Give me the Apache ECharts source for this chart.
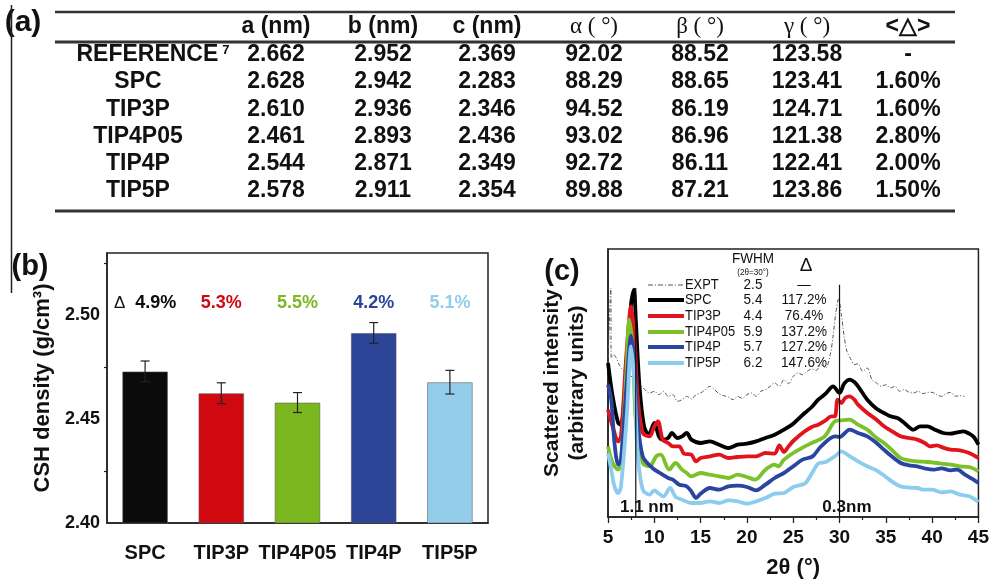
<!DOCTYPE html>
<html><head><meta charset="utf-8">
<script src="https://cdn.jsdelivr.net/npm/echarts@6/dist/echarts.min.js"></script>
<style>html,body{margin:0;padding:0;background:#fff}#c{width:992px;height:581px}</style>
</head><body><div id="c"></div>
<script>
// ---------- (a) table ----------
const tableHeader = ['a (nm)', 'b (nm)', 'c (nm)', 'α ( °)', 'β ( °)', 'γ ( °)', '<△>'];
const tableModels = ['REFERENCE', 'SPC', 'TIP3P', 'TIP4P05', 'TIP4P', 'TIP5P'];
const colA = [2.662, 2.628, 2.610, 2.461, 2.544, 2.578];
const colB = [2.952, 2.942, 2.936, 2.893, 2.871, 2.911];
const colC = [2.369, 2.283, 2.346, 2.436, 2.349, 2.354];
const colAlpha = [92.02, 88.29, 94.52, 93.02, 92.72, 89.88];
const colBeta = [88.52, 88.65, 86.19, 86.96, 86.11, 87.21];
const colGamma = [123.58, 123.41, 124.71, 121.38, 122.41, 123.86];
const colDelta = [null, 1.60, 1.60, 2.80, 2.00, 1.50];

// ---------- (b) density bars ----------
const densModels = ['SPC', 'TIP3P', 'TIP4P05', 'TIP4P', 'TIP5P'];
const density = [2.473, 2.4625, 2.458, 2.4915, 2.4678];
const densityErr = [0.005, 0.005, 0.0048, 0.005, 0.0057];
const densityDelta = ['4.9%', '5.3%', '5.5%', '4.2%', '5.1%'];
const modelColors = ['#0b0b0b', '#d0080f', '#7bb71e', '#2c4597', '#93cde9'];
const densityTicks = [2.40, 2.45, 2.50];

// ---------- (c) scattering ----------
const xrdNames = ['EXPT', 'SPC', 'TIP3P', 'TIP4P05', 'TIP4P', 'TIP5P'];
const xrdFWHM = ['2.5', '5.4', '4.4', '5.9', '5.7', '6.2'];
const xrdDelta = ['—', '117.2%', '76.4%', '137.2%', '127.2%', '147.6%'];
const expt = [[5,452],[5.3,687],[5.35,477],[5.6,487],[5.9,477],[6.2,457],[6.6,442],[7.0,432],[8.0,412],[8.8,387],[9.5,372],[10,377],[10.5,367],[11,377],[11.5,362],[12,367],[12.5,347],[13,352],[13.5,362],[14,354],[14.5,367],[15,372],[15.5,382],[16,392],[16.5,382],[17,370],[17.5,364],[18,360],[18.5,352],[19,362],[19.5,356],[20,367],[20.5,372],[21,362],[21.5,377],[22,382],[22.5,392],[23,402],[23.5,392],[24,412],[24.5,400],[25,422],[25.5,432],[26,427],[26.5,437],[27,444],[27.5,440],[28,457],[28.5,447],[29,487],[29.3,542],[29.6,612],[29.9,654],[30.2,607],[30.5,542],[30.8,497],[31.25,472],[31.6,457],[32,460],[32.5,437],[33,447],[33.5,412],[34,402],[34.5,392],[35,397],[35.5,387],[36,392],[36.5,377],[37,382],[37.5,374],[38,372],[38.5,377],[39,370],[39.5,374],[40,374],[40.5,367],[41,362],[41.5,370],[42,374],[42.5,362],[43,364],[43.5,362]];
const spc = [[5,462],[5.5,362],[6.1,282],[6.4,277],[7.0,442],[7.5,642],[7.8,682],[8.0,592],[8.4,392],[8.9,272],[9.4,247],[10.0,282],[10.5,242],[10.9,232],[11.5,237],[11.9,252],[12.5,237],[13,242],[13.5,252],[14,232],[15,222],[16,227],[17,217],[18,207],[19,217],[20,220],[21,227],[22,237],[23,247],[24,262],[25,280],[26.25,312],[27,330],[27.7,352],[28.5,370],[29.3,392],[30,372],[30.5,400],[31.1,412],[31.6,405],[32,392],[33,352],[34,325],[34.8,312],[35.5,302],[36.25,297],[37,282],[38,262],[38.7,272],[39.5,272],[40.3,262],[41.2,252],[42,250],[42.7,254],[43.4,257],[44,250],[44.5,240],[45,217]];
const tip3p = [[5,322],[5.5,272],[6.1,227],[6.4,242],[7.0,492],[7.5,632],[7.85,542],[8.2,362],[8.75,252],[9.5,242],[10.0,272],[10.4,287],[10.9,232],[11.5,222],[12.0,212],[12.7,212],[13.2,190],[14,187],[14.5,167],[15,177],[16,182],[17,187],[18,177],[19,180],[20,182],[21,182],[22,192],[23,190],[23.5,215],[24,195],[24.5,212],[25,228],[26.25,257],[27,270],[27.7,277],[28.5,290],[29.1,302],[29.5,302],[29.8,352],[30.2,342],[30.6,357],[31.1,362],[31.6,352],[32,337],[33,312],[34,292],[34.8,272],[35.5,260],[36.6,242],[37.5,237],[38.4,232],[39.2,222],[39.8,212],[40.5,215],[41.2,208],[42,202],[43,200],[44,192],[45,177]];
const tip4p05 = [[5,212],[5.5,162],[6.1,142],[6.4,162],[7.0,442],[7.3,592],[7.7,492],[8.0,292],[8.75,162],[9.5,152],[10.2,182],[10.7,187],[11.6,142],[12.3,162],[13,142],[13.5,132],[14,122],[15,132],[16,127],[17,122],[18,117],[19,127],[20,120],[20.9,112],[22,142],[23,157],[23.4,152],[24,172],[25,192],[26.25,212],[27,222],[28.4,242],[29.5,287],[30.2,290],[31.1,292],[32,277],[33,262],[34,237],[34.8,222],[35.5,205],[36.6,177],[37.5,170],[38.4,167],[39.5,165],[40.5,162],[42,157],[43,152],[44,150],[45,137]];
const tip4p = [[5,397],[5.35,352],[5.7,222],[6.1,157],[6.4,172],[7.0,392],[7.5,544],[7.85,462],[8.2,292],[8.75,182],[9.8,147],[10.9,127],[11.5,117],[12,112],[12.7,97],[13.5,92],[14,77],[14.5,57],[15,70],[16,87],[17,82],[18,92],[19,94],[20,90],[21,80],[22,97],[23,117],[24,132],[24.5,142],[25,152],[26,172],[27.1,182],[28,212],[29.5,242],[30,240],[31.1,262],[32,252],[33,242],[34,222],[34.8,202],[35.5,185],[36.6,162],[37.5,155],[38.4,152],[39.3,145],[40.2,142],[41,146],[42,140],[42.7,142],[43.5,128],[44.3,115],[45,102]];
const tip5p = [[5,192],[5.35,142],[5.7,92],[6.1,72],[6.4,92],[7.0,292],[7.5,512],[7.85,402],[8.2,192],[8.75,82],[9.5,67],[10,80],[10.5,70],[11,62],[11.7,87],[12.3,60],[13,52],[14,42],[15,42],[16,47],[17,42],[18,50],[19,47],[20,40],[21,47],[22,57],[23,70],[24,72],[25,90],[26.25,100],[27,130],[27.7,160],[28.5,165],[29.5,182],[30.2,197],[31,184],[32,167],[33,152],[34,140],[35,120],[36,100],[36.6,92],[37.5,88],[38.4,87],[39,82],[40,82],[41,74],[42,77],[43,67],[44,62],[45,45]];
const xrdSeries = [expt, spc, tip3p, tip4p05, tip4p, tip5p];
const xrdColors = ['#555555', '#000000', '#e0141a', '#7cc12a', '#2a44a2', '#8ccdef'];
const markerTheta = [8, 30];
const markerTop = [687, 697];
const markerLabels = ['1.1 nm', '0.3nm'];

// ---------- build ----------
const SANS = '"Liberation Sans", Arial, sans-serif';
const SERIF = '"Liberation Serif", "Times New Roman", serif';
const chart = echarts.init(document.getElementById('c'));
const G = [];
function text(x, y, t, font, extra, sx) {
  G.push({type: 'text', x: x, y: y, scaleX: sx || 1, silent: true,
    style: Object.assign({text: t, font: font, fill: '#111', align: 'center', verticalAlign: 'middle'}, extra || {})});
}
function line(x1, y1, x2, y2, w, col, dash) {
  G.push({type: 'line', silent: true, shape: {x1, y1, x2, y2}, style: {stroke: col || '#222', lineWidth: w, lineDash: dash || null}});
}
// panel labels
text(23, 23, '(a)', 'bold 30px ' + SANS);
text(30, 267, '(b)', 'bold 29px ' + SANS);
text(562, 272, '(c)', 'bold 29px ' + SANS);
line(11.5, 5, 11.5, 293, 1.5, '#222');
// table rules
line(55, 12, 955, 12, 2.5, '#333');
line(55, 42, 955, 42, 3, '#333');
line(55, 211, 955, 211, 3, '#333');
const colX = [276, 383, 487, 594, 700, 807, 908];
const rowY = [55, 82, 110, 137, 164, 191];
const BOLD = 'bold 23px ' + SANS;
tableHeader.forEach((h, j) => {
  const f = (j >= 3 && j <= 5) ? 'normal 23px ' + SERIF : BOLD;
  text(colX[j], 27, h, f);
});
tableModels.forEach((m, i) => {
  const y = rowY[i];
  if (i === 0) {
    G.push({type: 'text', x: 153, y: y, silent: true, style: {text: m + '{s|7}', font: BOLD, fill: '#111', align: 'center', verticalAlign: 'middle',
      rich: {s: {font: 'bold 13px ' + SANS, fill: '#111', verticalAlign: 'top', padding: [0, 0, 10, 4]}}}});
  } else {
    text(138, y, m, BOLD);
  }
  const vals = [colA[i].toFixed(3), colB[i].toFixed(3), colC[i].toFixed(3), colAlpha[i].toFixed(2), colBeta[i].toFixed(2), colGamma[i].toFixed(2),
    colDelta[i] == null ? '-' : colDelta[i].toFixed(2) + '%'];
  vals.forEach((v, j) => text(colX[j], y, v, BOLD));
});
// (c) legend
const legY = [285, 300, 316, 332, 347, 363];
text(753, 259, 'FWHM', 'normal 15px ' + SANS, null, 0.9);
text(753, 273, '(2θ=30°)', 'normal 9px ' + SANS, null, 0.9);
text(806, 266, 'Δ', 'normal 19px ' + SANS);
xrdNames.forEach((n, i) => {
  const y = legY[i];
  if (i === 0) line(648, y, 684, y, 1, xrdColors[0], [5, 2, 1, 2]);
  else line(648, y, 684, y, 4, xrdColors[i]);
  text(685, y, n, 'normal 15px ' + SANS, {align: 'left'}, 0.86);
  text(753, y, xrdFWHM[i], 'normal 15px ' + SANS, null, 0.9);
  text(804, y, xrdDelta[i], 'normal 15px ' + SANS, null, 0.9);
});

function textSeries(xi, yi, items) {
  return {type: 'custom', xAxisIndex: xi, yAxisIndex: yi, z: 30, silent: true,
    data: items.map((it, k) => [it.x, it.y, k]),
    renderItem: function (params, api) {
      const it = items[api.value(2)];
      const p = api.coord([api.value(0), api.value(1)]);
      return {type: 'text', x: p[0], y: p[1], style: Object.assign({text: it.text, fill: it.color, font: it.font,
        align: 'center', verticalAlign: 'middle'}, it.rich ? {rich: it.rich} : {})};
    }};
}

const series = [];
// bars
series.push({type: 'bar', xAxisIndex: 0, yAxisIndex: 0, barWidth: '60%',
  data: density.map((v, i) => ({value: v, itemStyle: {color: modelColors[i], borderColor: 'rgba(90,90,90,0.55)', borderWidth: 1}}))});
series.push({type: 'custom', xAxisIndex: 0, yAxisIndex: 0, z: 10,
  data: density.map((v, i) => [i, v - densityErr[i], v + densityErr[i]]),
  renderItem: function (params, api) {
    const lo = api.coord([api.value(0), api.value(1)]);
    const hi = api.coord([api.value(0), api.value(2)]);
    const hw = 4.5, st = {stroke: '#222', lineWidth: 1.2};
    return {type: 'group', children: [
      {type: 'line', shape: {x1: lo[0], y1: lo[1], x2: hi[0], y2: hi[1]}, style: st},
      {type: 'line', shape: {x1: lo[0] - hw, y1: lo[1], x2: lo[0] + hw, y2: lo[1]}, style: st},
      {type: 'line', shape: {x1: hi[0] - hw, y1: hi[1], x2: hi[0] + hw, y2: hi[1]}, style: st}
    ]};
  }});
series.push(textSeries(0, 0, densityDelta.map((d, i) => ({x: i, y: 2.5058,
  text: i === 0 ? '{d|Δ}  ' + d : d, color: modelColors[i], font: 'bold 18px ' + SANS,
  rich: {d: {fill: '#111', font: 'normal 17px ' + SANS}}}))));
// xrd lines
xrdSeries.forEach((d, i) => {
  series.push({type: 'line', name: xrdNames[i], xAxisIndex: 1, yAxisIndex: 1, data: d, showSymbol: false, smooth: 0.3,
    lineStyle: i === 0 ? {color: xrdColors[0], width: 1, type: [4, 2, 1, 2]} : {color: xrdColors[i], width: 3.8},
    z: 3 + i});
});
markerTheta.forEach((t, i) => {
  series.push({type: 'line', xAxisIndex: 1, yAxisIndex: 1, data: [[t, 0], [t, markerTop[i]]], showSymbol: false,
    lineStyle: {color: '#111', width: 1.2}, z: 20});
});
series.push(textSeries(1, 1, markerLabels.map((l, i) => ({x: markerTheta[i] + (i === 0 ? 1.2 : 0.8), y: 30,
  text: l, color: '#111', font: 'bold 17px ' + SANS}))));

const axisLineStyle = {lineStyle: {color: '#222', width: 1.5}};
const option = {
  animation: false,
  backgroundColor: '#fff',
  grid: [
    {left: 107, top: 253, width: 381, height: 270, show: true, borderColor: '#222', borderWidth: 1.5, backgroundColor: 'transparent'},
    {left: 608, top: 249, width: 374, height: 268, show: true, borderColor: '#222', borderWidth: 1.5, backgroundColor: 'transparent'}
  ],
  xAxis: [
    {type: 'category', gridIndex: 0, data: densModels, axisLine: axisLineStyle,
      axisTick: {alignWithLabel: true, length: 6, lineStyle: {color: '#222', width: 1.3}},
      axisLabel: {interval: 0, color: '#111', fontSize: 20, fontWeight: 'bold', fontFamily: SANS, margin: 20}},
    {type: 'value', gridIndex: 1, min: 5, max: 45, interval: 5, axisLine: axisLineStyle,
      axisTick: {length: 6, lineStyle: {color: '#222', width: 1.3}},
      minorTick: {show: true, splitNumber: 2, length: 3, lineStyle: {color: '#222', width: 1.2}},
      splitLine: {show: false},
      axisLabel: {color: '#111', fontSize: 19, fontWeight: 'bold', fontFamily: SANS, margin: 11},
      name: '2θ (°)', nameLocation: 'middle', nameGap: 40,
      nameTextStyle: {color: '#111', fontSize: 22, fontWeight: 'bold', fontFamily: SANS}}
  ],
  yAxis: [
    {type: 'value', gridIndex: 0, min: 2.40, max: 2.53, interval: 0.05, axisLine: {show: true, lineStyle: {color: '#222', width: 1.5}},
      axisTick: {length: 6, lineStyle: {color: '#222', width: 1.3}},
      minorTick: {show: true, splitNumber: 2, length: 3, lineStyle: {color: '#222', width: 1.2}},
      splitLine: {show: false},
      axisLabel: {color: '#111', fontSize: 18, fontWeight: 'bold', fontFamily: SANS, margin: 7, showMaxLabel: false,
        formatter: v => densityTicks.some(t => Math.abs(t - v) < 1e-6) ? v.toFixed(2) : ''},
      name: 'CSH density (g/cm³)', nameLocation: 'middle', nameGap: 53,
      nameTextStyle: {color: '#111', fontSize: 22, fontWeight: 'bold', fontFamily: SANS}},
    {type: 'value', gridIndex: 1, min: 0, max: 804, axisLine: {show: true, lineStyle: {color: '#222', width: 1.5}},
      axisTick: {show: false}, axisLabel: {show: false}, splitLine: {show: false},
      name: 'Scattered intensity\n(arbitrary units)', nameLocation: 'middle', nameGap: 18,
      nameTextStyle: {color: '#111', fontSize: 21, fontWeight: 'bold', fontFamily: SANS, lineHeight: 25}}
  ],
  series: series,
  graphic: {elements: G}
};
chart.setOption(option);
</script>
</body></html>
